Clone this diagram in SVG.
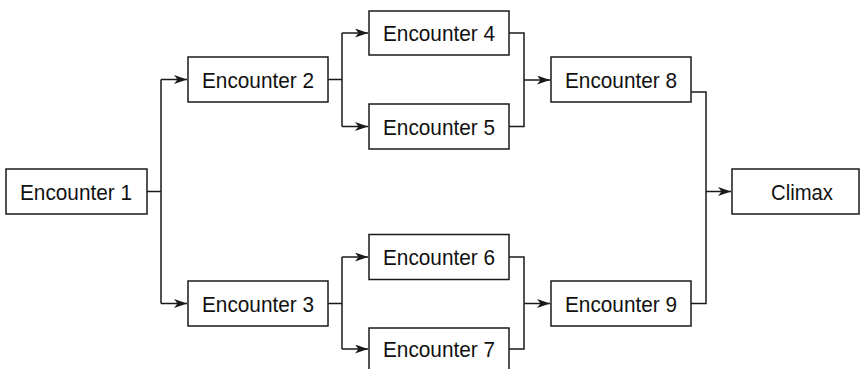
<svg xmlns="http://www.w3.org/2000/svg" width="860" height="369" viewBox="0 0 860 369">
<style>
.box{fill:#fff;stroke:#1a1a1a;stroke-width:1.5}
.lbl{font-family:"Liberation Sans Narrow","Liberation Sans",Arial,sans-serif;font-size:22px;fill:#111}
.c{text-anchor:middle}
.ln{fill:none;stroke:#1a1a1a;stroke-width:1.5}
</style>
<defs>
<marker id="ah" markerUnits="userSpaceOnUse" markerWidth="14" markerHeight="9" refX="13" refY="4.5" orient="auto">
<path d="M0,0 L13,4.5 L0,9 L3.5,4.5 z" fill="#1a1a1a"/>
</marker>
</defs>
<rect width="860" height="369" fill="#fff"/>
<g id="connectors">
<path class="ln" d="M147,191.5 H161 M161,79.5 V303.5"/>
<path class="ln" d="M161,79.5 H187" marker-end="url(#ah)"/>
<path class="ln" d="M161,303.5 H187" marker-end="url(#ah)"/>
<path class="ln" d="M328,79.5 H342 M342,33 V126.5"/>
<path class="ln" d="M342,33 H368" marker-end="url(#ah)"/>
<path class="ln" d="M342,126.5 H368" marker-end="url(#ah)"/>
<path class="ln" d="M509,33 H524 V126.5 H509"/>
<path class="ln" d="M524,80 H550" marker-end="url(#ah)"/>
<path class="ln" d="M328,303.5 H342 M342,257 V349"/>
<path class="ln" d="M342,257 H368" marker-end="url(#ah)"/>
<path class="ln" d="M342,349 H368" marker-end="url(#ah)"/>
<path class="ln" d="M509,257 H524 V349 H509"/>
<path class="ln" d="M524,303.5 H550" marker-end="url(#ah)"/>
<path class="ln" d="M691,92 H706 V303.5 H691"/>
<path class="ln" d="M706,191.5 H731" marker-end="url(#ah)"/>
</g>
<g id="enc1"><rect class="box" x="6" y="169" width="141" height="45"/><text class="lbl c" x="76" y="199.5" textLength="112" lengthAdjust="spacingAndGlyphs">Encounter 1</text></g>
<g id="enc2"><rect class="box" x="188" y="57" width="140" height="45"/><text class="lbl c" x="258" y="87.5" textLength="112" lengthAdjust="spacingAndGlyphs">Encounter 2</text></g>
<g id="enc3"><rect class="box" x="188" y="281" width="140" height="45"/><text class="lbl c" x="258" y="311.5" textLength="112" lengthAdjust="spacingAndGlyphs">Encounter 3</text></g>
<g id="enc4"><rect class="box" x="369" y="11" width="140" height="44"/><text class="lbl c" x="439" y="40.7" textLength="112" lengthAdjust="spacingAndGlyphs">Encounter 4</text></g>
<g id="enc5"><rect class="box" x="369" y="104" width="140" height="45"/><text class="lbl c" x="439" y="134.5" textLength="112" lengthAdjust="spacingAndGlyphs">Encounter 5</text></g>
<g id="enc6"><rect class="box" x="369" y="234.5" width="140" height="45"/><text class="lbl c" x="439" y="265" textLength="112" lengthAdjust="spacingAndGlyphs">Encounter 6</text></g>
<g id="enc7"><rect class="box" x="369" y="328" width="140" height="45"/><text class="lbl c" x="439" y="357" textLength="112" lengthAdjust="spacingAndGlyphs">Encounter 7</text></g>
<g id="enc8"><rect class="box" x="551" y="57" width="140" height="45"/><text class="lbl c" x="621" y="87.5" textLength="112" lengthAdjust="spacingAndGlyphs">Encounter 8</text></g>
<g id="enc9"><rect class="box" x="551" y="281" width="140" height="45"/><text class="lbl c" x="621" y="311.5" textLength="112" lengthAdjust="spacingAndGlyphs">Encounter 9</text></g>
<g id="climax"><rect class="box" x="732" y="169" width="127" height="45"/><text class="lbl" x="771" y="199.5" textLength="62" lengthAdjust="spacingAndGlyphs">Climax</text></g>
</svg>
